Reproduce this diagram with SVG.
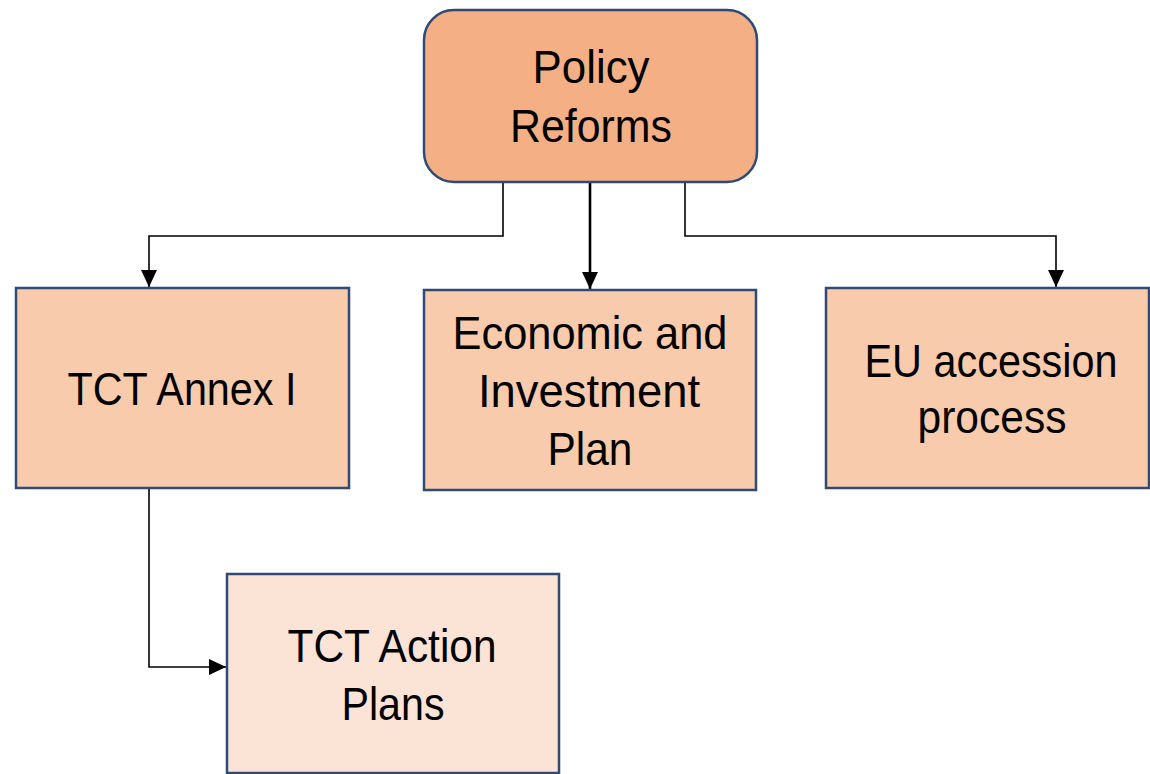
<svg xmlns="http://www.w3.org/2000/svg" width="1150" height="774" viewBox="0 0 1150 774">
<style>
.box{stroke:#2E4A75;stroke-width:2.5}
.l1{fill:#F8CBAD}
.l2{fill:#FBE4D6}
.top{fill:#F4B084}
.t{font-family:"Liberation Sans",Arial,sans-serif;font-size:46px;fill:#000;text-anchor:middle}
.c{fill:none;stroke:#000;stroke-width:1.6}
.c2{fill:none;stroke:#000;stroke-width:2.6}
</style>
<defs>
<marker id="ah" viewBox="0 0 17 16" refX="17" refY="8" markerWidth="17" markerHeight="16" markerUnits="userSpaceOnUse" orient="auto">
<path d="M0,0 L17,8 L0,16 Z" fill="#000"/>
</marker>
</defs>
<rect width="1150" height="774" fill="#fff"/>
<g id="connectors">
<path class="c" d="M503,182 V236 H149 V287" marker-end="url(#ah)"/>
<path class="c2" d="M590,182 V289" marker-end="url(#ah)"/>
<path class="c" d="M685,182 V236 H1056 V287" marker-end="url(#ah)"/>
<path class="c" d="M149,488 V667 H226" marker-end="url(#ah)"/>
</g>
<g id="policy-reforms">
<rect class="box top" x="424" y="10" width="333" height="172" rx="30"/>
<text class="t" x="591" y="83" textLength="117" lengthAdjust="spacingAndGlyphs">Policy</text>
<text class="t" x="591" y="142" textLength="162" lengthAdjust="spacingAndGlyphs">Reforms</text>
</g>
<g id="tct-annex">
<rect class="box l1" x="16" y="288" width="333" height="200"/>
<text class="t" x="182" y="405" textLength="229" lengthAdjust="spacingAndGlyphs">TCT Annex I</text>
</g>
<g id="economic-investment">
<rect class="box l1" x="424" y="290" width="332" height="200"/>
<text class="t" x="590" y="349" textLength="275" lengthAdjust="spacingAndGlyphs">Economic and</text>
<text class="t" x="589" y="407" textLength="222" lengthAdjust="spacingAndGlyphs">Investment</text>
<text class="t" x="590" y="465" textLength="85" lengthAdjust="spacingAndGlyphs">Plan</text>
</g>
<g id="eu-accession">
<rect class="box l1" x="826" y="288" width="323" height="200"/>
<text class="t" x="991" y="377" textLength="253" lengthAdjust="spacingAndGlyphs">EU accession</text>
<text class="t" x="992" y="433" textLength="149" lengthAdjust="spacingAndGlyphs">process</text>
</g>
<g id="tct-action">
<rect class="box l2" x="227" y="574" width="332" height="199"/>
<text class="t" x="392" y="662" textLength="209" lengthAdjust="spacingAndGlyphs">TCT Action</text>
<text class="t" x="393" y="720" textLength="103" lengthAdjust="spacingAndGlyphs">Plans</text>
</g>
</svg>
